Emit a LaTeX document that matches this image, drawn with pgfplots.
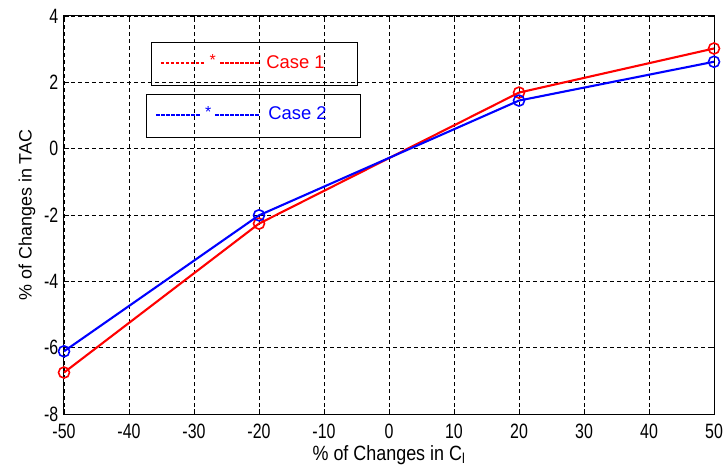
\documentclass[border=0pt]{standalone}
\usepackage{pgfplots}
\pgfplotsset{compat=1.18}
\usepackage{fontspec}
\setmainfont{Liberation Sans}
\begin{document}
\begin{tikzpicture}
\path[use as bounding box] (-64bp,-58bp) rectangle (660bp,414bp);
\begin{axis}[
  at={(0,0)}, anchor=south west,
  scale only axis, width=650bp, height=398bp,
  xmin=-50, xmax=50, ymin=-8, ymax=4,
  xtick={-50,-40,...,50}, ytick={-8,-6,...,4},
  grid=major,
  major grid style={black, line width=0.7bp, dash pattern=on 4bp off 3bp},
  axis line style={black, line width=1bp},
  tick align=inside, major tick length=5bp, tick style={black, line width=0.8bp},
  /pgf/number format/assume math mode=true,
  ticklabel style={font=\fontsize{16}{16}\selectfont},
  xticklabel={\scalebox{1}[1.3]{\pgfmathprintnumber{\tick}}},
  yticklabel={\scalebox{1}[1.3]{\pgfmathprintnumber{\tick}}},
  xticklabel style={inner sep=1bp, yshift=-9bp},
  yticklabel style={inner sep=1bp, xshift=-4.5bp},
  xlabel={\scalebox{1}[1.15]{\% of Changes in C\textsubscript{l}}},
  ylabel={\% of Changes in TAC},
  label style={font=\fontsize{18}{18}\selectfont},
  xlabel style={at={(axis description cs:0.5,-0.103)}, anchor=center},
  ylabel style={at={(axis description cs:-0.0569,0.5)}, anchor=center},
  clip=false,
]
\addplot[red, line width=2.1bp, mark=o, mark size=5.5bp, mark options={line width=1.6bp, solid}]
  coordinates {(-50,-6.75) (-20,-2.26) (20,1.69) (50,3.02)};
\addplot[blue, line width=2.1bp, mark=o, mark size=5.5bp, mark options={line width=1.6bp, solid}]
  coordinates {(-50,-6.11) (-20,-2.01) (20,1.45) (50,2.62)};
% legend boxes
\draw[black, line width=1bp] (axis cs:-36.5,1.89) rectangle (axis cs:-4.77,3.19);
\draw[black, line width=1bp] (axis cs:-37.3,0.33) rectangle (axis cs:-4.46,1.62);
\draw[draw=red, line width=1.4bp, dash pattern=on 3.5bp off 1.5bp] (axis cs:-35.1,2.58) -- (axis cs:-28.3,2.58);
\draw[draw=red, line width=1.4bp, dash pattern=on 3.5bp off 1.5bp] (axis cs:-26.0,2.58) -- (axis cs:-20.0,2.58);
\node[red, font=\fontsize{16}{16}\selectfont, inner sep=0pt, anchor=base] at (axis cs:-27.1,2.50) {*};
\node[red, anchor=west, inner sep=0pt, font=\fontsize{18.5}{18.5}\selectfont] at (axis cs:-18.9,2.62) {Case 1};
\draw[draw=blue, line width=1.4bp, dash pattern=on 3.5bp off 1.5bp] (axis cs:-35.8,1.01) -- (axis cs:-29.0,1.01);
\draw[draw=blue, line width=1.4bp, dash pattern=on 3.5bp off 1.5bp] (axis cs:-26.7,1.01) -- (axis cs:-20.0,1.01);
\node[blue, font=\fontsize{16}{16}\selectfont, inner sep=0pt, anchor=base] at (axis cs:-27.8,0.93) {*};
\node[blue, anchor=west, inner sep=0pt, font=\fontsize{18.5}{18.5}\selectfont] at (axis cs:-18.6,1.08) {Case 2};
\end{axis}
\end{tikzpicture}
\end{document}
